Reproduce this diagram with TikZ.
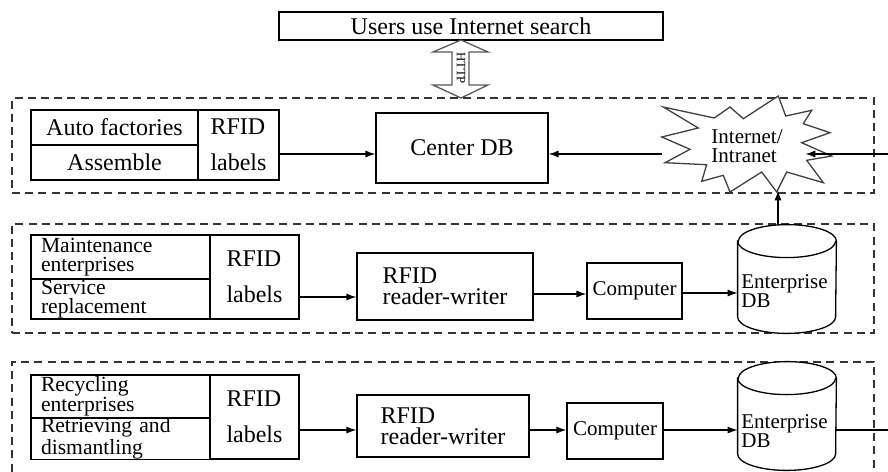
\documentclass[tikz,border=0pt]{standalone}
\usepackage{fontspec}
\setmainfont{Liberation Serif}
\usetikzlibrary{arrows.meta}
\lineskiplimit=-20pt
\lineskip=0pt
\begin{document}
\begin{tikzpicture}[x=0.5pt,y=-0.5pt,
  lw/.style={line width=0.65pt},
  box/.style={draw, lw, inner sep=0pt, align=center},
  cell/.style={draw, lw, inner ysep=0pt, inner xsep=5pt, text width=#1, align=left},
  arr/.style={lw, -{Latex[length=5pt,width=3.6pt]}},
  dbox/.style={draw, lw, draw=black!80, dash pattern=on 4pt off 2.6pt, inner sep=0pt},
  fbig/.style={font={\fontsize{12}{14}\selectfont}},
  frfid/.style={font={\fontsize{12}{18}\selectfont}},
  frw/.style={font={\fontsize{12}{10.5}\selectfont}},
  fsm/.style={font={\fontsize{10.8}{9.8}\selectfont}},
  fcmp/.style={font={\fontsize{10.5}{9.2}\selectfont}},
]
\useasboundingbox (0,0) rectangle (888,471);
\clip (0,0) rectangle (888,471);

% helper coordinates (rows of connectors)
\coordinate (y1) at (0,154);
\coordinate (y2a) at (0,297);
\coordinate (y2b) at (0,294);
\coordinate (y2c) at (0,293);
\coordinate (y3) at (0,430);
\coordinate (xv) at (778,0);
\coordinate (xr) at (900,0);

% dashed groups
\node[dbox, minimum width=431pt, minimum height=47.5pt] (grp1) at (443,145.5) {};
\node[dbox, minimum width=431pt, minimum height=54.5pt] (grp2) at (443,278.5) {};
\node[dbox, minimum width=431pt, minimum height=64pt] (grp3) at (443,426) {};

% top box
\node[box, fbig, minimum width=192pt, minimum height=14pt] (users) at (471,26) {Users use Internet search};

% HTTP double arrow
\draw[lw, draw=black!65, fill=white] (461,40) -- (488,52) -- (469,52) -- (469,85) -- (488,85)
  -- (461,98) -- (433,85) -- (452,85) -- (452,52) -- (433,52) -- cycle;
\node[rotate=-90, inner sep=0pt, font={\fontsize{6.4}{7}\selectfont}] (http) at (461,68) {HTTP};

% row 1
\node[box, fbig, minimum width=83.5pt, minimum height=17.5pt] (t1a) at (114.5,127.5) {Auto factories};
\node[box, fbig, minimum width=83.5pt, minimum height=17.5pt] (t1b) at (114.5,162.5) {Assemble};
\node[box, frfid, align=left, minimum width=40.5pt, minimum height=35pt] (t1c) at (238.5,145) {RFID\\labels};
\node[box, fbig, minimum width=86pt, minimum height=35pt] (cdb) at (462,148) {Center DB};

% cloud
\draw[lw, draw=black!75, fill=white]
  (663.3,107) -- (714.3,118) -- (730,107) -- (743.3,118.7) -- (778.3,96) -- (785.7,116)
  -- (811.7,110.3) -- (803.3,123.7) -- (830,132.7) -- (801.7,142.7) -- (831.7,156)
  -- (806.7,160.3) -- (823.3,182.7) -- (786.7,172) -- (776.7,192) -- (761.7,172)
  -- (730,192) -- (723.3,175.3) -- (701.7,181.3) -- (706.7,164.7) -- (665,162.7)
  -- (690,149.3) -- (661.7,137) -- (698.3,128) -- cycle;
\node[fcmp, align=left, inner sep=0pt, minimum width=85pt, minimum height=44pt] (cloud) at (747,146) {Internet/\\Intranet};
\coordinate (cin) at ([xshift=-13.5pt]cloud.east);

% row 2
\node[cell=79.5pt, fsm, minimum height=22pt] (t2a) at (120.5,257) {Maintenance\\enterprises};
\node[cell=79.5pt, fsm, minimum height=20pt] (t2b) at (120.5,299) {Service\\replacement};
\node[box, frfid, align=left, minimum width=44.5pt, minimum height=42pt] (t2c) at (254.5,277) {RFID\\labels};
\node[box, frw, align=left, minimum width=88pt, minimum height=33.5pt] (rw1) at (445,286.5) {RFID\\reader-writer};
\node[box, fcmp, minimum width=47.5pt, minimum height=28pt] (c1) at (634.5,291) {Computer};
\node[inner sep=0pt, minimum width=49pt, minimum height=54pt] (db1) at (787,279) {};
\draw[lw, fill=white] ([yshift=-8.25pt]db1.north west) -- ([yshift=8.25pt]db1.south west)
  arc[start angle=180, end angle=360, x radius=24.5pt, y radius=8.25pt]
  -- ([yshift=-8.25pt]db1.north east)
  arc[start angle=0, end angle=180, x radius=24.5pt, y radius=8.25pt] -- cycle;
\draw[lw] ([yshift=-8.25pt]db1.north west) arc[start angle=180, end angle=360, x radius=24.5pt, y radius=8.25pt];
\node[fcmp, align=left, inner sep=0pt, anchor=west] (db1t) at (741,291) {Enterprise\\DB};

% row 3
\node[cell=79.5pt, fsm, minimum height=21.5pt] (t3a) at (120.5,396.5) {Recycling\\enterprises};
\node[cell=79.5pt, fsm, minimum height=20.5pt] (t3b) at (120.5,438.5) {Retrieving and\\dismantling};
\node[box, frfid, align=left, minimum width=44.5pt, minimum height=42pt] (t3c) at (254.5,417) {RFID\\labels};
\node[box, frw, align=left, minimum width=86pt, minimum height=31pt] (rw2) at (443,426) {RFID\\reader-writer};
\node[box, fcmp, minimum width=48pt, minimum height=28pt] (c2) at (615,431) {Computer};
\node[inner sep=0pt, minimum width=49pt, minimum height=54pt] (db2) at (787,416) {};
\draw[lw, fill=white] ([yshift=-8.25pt]db2.north west) -- ([yshift=8.25pt]db2.south west)
  arc[start angle=180, end angle=360, x radius=24.5pt, y radius=8.25pt]
  -- ([yshift=-8.25pt]db2.north east)
  arc[start angle=0, end angle=180, x radius=24.5pt, y radius=8.25pt] -- cycle;
\draw[lw] ([yshift=-8.25pt]db2.north west) arc[start angle=180, end angle=360, x radius=24.5pt, y radius=8.25pt];
\node[fcmp, align=left, inner sep=0pt, anchor=west] (db2t) at (741,431) {Enterprise\\DB};

% connectors
\draw[arr] (t1c.east |- y1) -- (cdb.west |- y1);
\draw[arr] (cloud.west |- y1) -- (cdb.east |- y1);
\draw[arr] (db1.north -| xv) -- (cloud.south -| xv);
\draw[arr] (t2c.east |- y2a) -- (rw1.west |- y2a);
\draw[arr] (rw1.east |- y2b) -- (c1.west |- y2b);
\draw[arr] (c1.east |- y2c) -- (db1.west |- y2c);
\draw[arr] (t3c.east |- y3) -- (rw2.west |- y3);
\draw[arr] (rw2.east |- y3) -- (c2.west |- y3);
\draw[arr] (c2.east |- y3) -- (db2.west |- y3);
\draw[arr] (db2.east |- y3) -- (xr |- y3) -- (xr |- y1) -- (cin |- y1);
\end{tikzpicture}
\end{document}
